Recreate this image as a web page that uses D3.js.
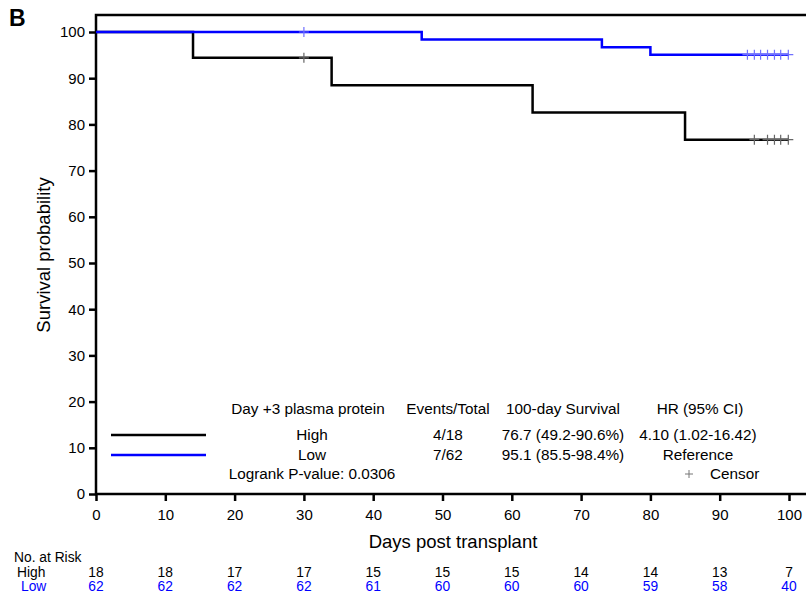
<!DOCTYPE html>
<meta charset="utf-8">
<style>
body { margin: 0; background: #fff; }
svg { display: block; font-family: "Liberation Sans", Arial, sans-serif; }
.tick text { font-size: 15px; fill: #000; }
</style>
<div id="chart"></div>
<script src="https://d3js.org/d3.v7.min.js"></script>
<script>
  // survival step curves (day, percent)
  var highSteps = [[0, 100], [14, 94.4], [34, 88.5], [63, 82.6], [85, 76.7], [100, 76.7]];
  var lowSteps = [[0, 100], [47, 98.4], [73, 96.7], [80, 95.1], [100, 95.1]];
  var highCensor = [30, 95, 96.9, 97.9, 98.8, 99.9];
  var lowCensor = [30, 94, 95, 95.9, 96.9, 97.9, 98.8, 99.9];

  var riskDays = [0, 10, 20, 30, 40, 50, 60, 70, 80, 90, 100];
  var riskHigh = [18, 18, 17, 17, 15, 15, 15, 14, 14, 13, 7];
  var riskLow = [62, 62, 62, 62, 61, 60, 60, 60, 59, 58, 40];

  var legendGroups = ["High", "Low"];
  var legendEvents = ["4/18", "7/62"];
  var legendSurv = ["76.7 (49.2-90.6%)", "95.1 (85.5-98.4%)"];
  var legendHR = ["4.10 (1.02-16.42)", "Reference"];
  var colors = ["#000000", "#0000ff"];
  var censorColors = ["#666666", "#7070ff"];

  var width = 806, height = 596;
  var svg = d3.select("#chart").append("svg")
    .attr("width", width).attr("height", height);

  var x = d3.scaleLinear().domain([0, 100]).range([96, 789]);
  var y = d3.scaleLinear().domain([0, 100]).range([494, 32]);

  // panel letter
  svg.append("text").attr("x", 9).attr("y", 26)
    .style("font-size", "23px").style("font-weight", "bold").text("B");

  // axes
  var yAxis = svg.append("g").attr("transform", "translate(96,0)")
    .call(d3.axisLeft(y).tickValues(d3.range(0, 101, 10)).tickSize(7).tickPadding(4));
  var xAxis = svg.append("g").attr("transform", "translate(0,494)")
    .call(d3.axisBottom(x).tickValues(d3.range(0, 101, 10)).tickSize(7).tickPadding(8));
  [yAxis, xAxis].forEach(function(g) {
    g.select(".domain").remove();
    g.selectAll(".tick line").attr("stroke", "#000").attr("stroke-width", 2.5);
  });

  // frame
  var frame = svg.append("g").attr("stroke", "#000").attr("stroke-width", 2.5).attr("fill", "none");
  frame.append("path").attr("d", "M" + width + ",15H96V494H" + width);

  svg.append("text").attr("transform", "translate(50,255) rotate(-90)")
    .attr("text-anchor", "middle").style("font-size", "18.5px").text("Survival probability");
  svg.append("text").attr("x", 453).attr("y", 548)
    .attr("text-anchor", "middle").style("font-size", "18.5px").text("Days post transplant");

  // curves
  var line = d3.line().x(function(d) { return x(d[0]); }).y(function(d) { return y(d[1]); })
    .curve(d3.curveStepAfter);
  [highSteps, lowSteps].forEach(function(s, i) {
    svg.append("path").datum(s).attr("d", line)
      .attr("fill", "none").attr("stroke", colors[i]).attr("stroke-width", 2.5);
  });

  function survAt(steps, t) {
    var v = steps[0][1];
    steps.forEach(function(d) { if (d[0] <= t) v = d[1]; });
    return v;
  }
  [[highCensor, highSteps], [lowCensor, lowSteps]].forEach(function(c, i) {
    svg.append("g").selectAll("path").data(c[0]).enter().append("path")
      .attr("d", function(t) {
        var cx = x(t), cy = y(survAt(c[1], t));
        return "M" + cx + "," + (cy - 5) + "V" + (cy + 5) + "M" + (cx - 5) + "," + cy + "H" + (cx + 5);
      })
      .attr("stroke", censorColors[i]).attr("stroke-width", 1.2).attr("fill", "none");
  });

  // legend
  function txt(xp, yp, s, anchor, col, size) {
    svg.append("text").attr("x", xp).attr("y", yp).attr("text-anchor", anchor || "middle")
      .attr("fill", col || "#000").style("font-size", size || "15.3px").text(s);
  }
  txt(308, 414, "Day +3 plasma protein");
  txt(448, 414, "Events/Total");
  txt(563, 414, "100-day Survival");
  txt(700, 414, "HR (95% CI)");
  legendGroups.forEach(function(g, i) {
    var ly = 435 + i * 20;
    svg.append("line").attr("x1", 111).attr("x2", 206).attr("y1", ly).attr("y2", ly)
      .attr("stroke", colors[i]).attr("stroke-width", 2.5);
    txt(312, ly + 5, g);
    txt(448, ly + 5, legendEvents[i]);
    txt(563, ly + 5, legendSurv[i]);
    txt(698, ly + 5, legendHR[i]);
  });
  txt(312, 479, "Logrank P-value: 0.0306");
  svg.append("path").attr("d", "M689,470V478M685,474H693")
    .attr("stroke", "#777").attr("stroke-width", 1);
  txt(710, 479, "Censor", "start");

  // number at risk
  var rs = "13.8px";
  txt(14, 562, "No. at Risk", "start", "#000", rs);
  txt(17, 577, "High", "start", "#000", rs);
  txt(21, 591, "Low", "start", colors[1], rs);
  riskDays.forEach(function(d, i) {
    txt(x(d), 577, riskHigh[i], "middle", "#000", rs);
    txt(x(d), 591, riskLow[i], "middle", colors[1], rs);
  });
</script>
